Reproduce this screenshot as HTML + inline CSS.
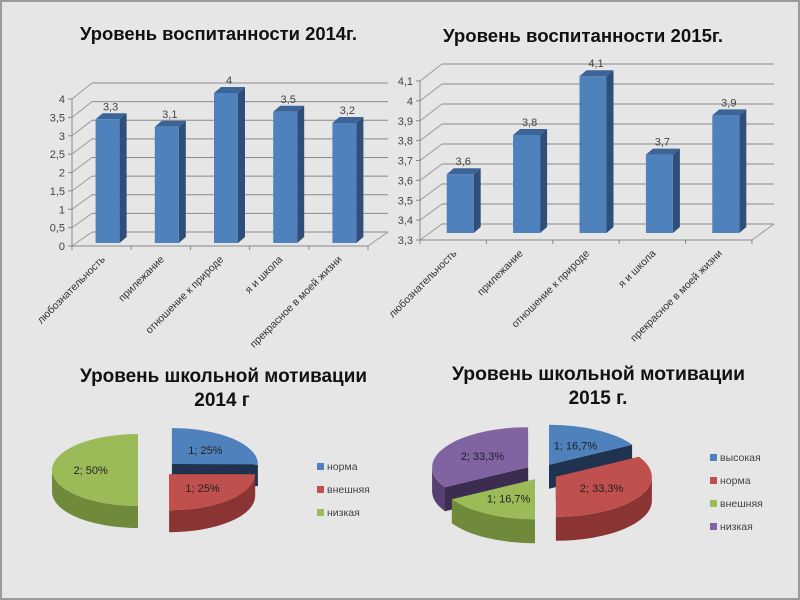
<!DOCTYPE html>
<html><head><meta charset="utf-8"><style>
html,body{margin:0;padding:0;background:#e6e6e6;}
svg{display:block;font-family:"Liberation Sans","DejaVu Sans",sans-serif;}
</style></head><body>
<svg id="s" width="800" height="600" viewBox="0 0 800 600" xmlns="http://www.w3.org/2000/svg">
<rect x="0" y="0" width="800" height="600" fill="#e6e6e6"/>
<rect x="1" y="1" width="798" height="598" fill="none" stroke="#9a9a9a" stroke-width="2"/>
<g font-weight="bold" font-size="18" fill="#111">
<text x="80" y="40" textLength="277" lengthAdjust="spacingAndGlyphs">Уровень воспитанности 2014г.</text>
<text x="443" y="42" textLength="280" lengthAdjust="spacingAndGlyphs">Уровень воспитанности 2015г.</text>
<text x="80" y="382" font-size="19" textLength="287" lengthAdjust="spacingAndGlyphs">Уровень школьной мотивации</text>
<text x="222" y="406" font-size="19" text-anchor="middle">2014 г</text>
<text x="452" y="380" font-size="19" textLength="293" lengthAdjust="spacingAndGlyphs">Уровень школьной мотивации</text>
<text x="598" y="404" font-size="19" text-anchor="middle">2015 г.</text>
</g>
<g id="g"></g>
</svg>
<script>
var g=document.getElementById('g'),h='';
function bars(o){
  var n=o.ticks.length;
  for(var i=0;i<n;i++){
    var t=(o.vals[i]-o.min)/(o.max-o.min);
    var fy=o.fy0+(o.fy1-o.fy0)*t, by=o.by0+(o.by1-o.by0)*t;
    h+='<line x1="'+o.bx0+'" y1="'+by+'" x2="'+o.bx1+'" y2="'+by+'" stroke="#8a8a8a" stroke-width="1"/>';
    h+='<line x1="'+o.ax+'" y1="'+fy+'" x2="'+o.bx0+'" y2="'+by+'" stroke="#9a9a9a"/>';
    h+='<line x1="'+(o.ax-4)+'" y1="'+fy+'" x2="'+o.ax+'" y2="'+fy+'" stroke="#888"/>';
    h+='<text x="'+(o.ax-7)+'" y="'+(fy+4)+'" font-size="11" fill="#444" text-anchor="end">'+o.ticks[i]+'</text>';
  }
  h+='<line x1="'+o.ax+'" y1="'+o.fy1+'" x2="'+o.ax+'" y2="'+o.fy0+'" stroke="#888"/>';
  h+='<line x1="'+o.ax+'" y1="'+o.fy0+'" x2="'+o.fx1+'" y2="'+o.fy0+'" stroke="#888"/>';
  h+='<line x1="'+o.fx1+'" y1="'+o.fy0+'" x2="'+o.bx1+'" y2="'+o.by0+'" stroke="#9a9a9a"/>';
  var cw=(o.fx1-o.ax)/5;
  for(var i=0;i<=5;i++){var x=o.ax+cw*i;h+='<line x1="'+x+'" y1="'+o.fy0+'" x2="'+x+'" y2="'+(o.fy0+4)+'" stroke="#888"/>';}
  for(var i=0;i<5;i++){
    var cx=o.ax+cw*(i+0.5)+o.shift, v=o.data[i], top=o.bb-(v-o.min)*o.sc, w=o.bw, x=cx-w/2;
    h+='<polygon points="'+(x+w)+','+top+' '+(x+w+7)+','+(top-6)+' '+(x+w+7)+','+(o.bb-6)+' '+(x+w)+','+o.bb+'" fill="#2f4f7a"/>';
    h+='<polygon points="'+x+','+top+' '+(x+7)+','+(top-6)+' '+(x+w+7)+','+(top-6)+' '+(x+w)+','+top+'" fill="#3d6496"/>';
    h+='<rect x="'+x+'" y="'+top+'" width="'+w+'" height="'+(o.bb-top)+'" fill="#4f81bd"/>';
    h+='<text x="'+(cx+3)+'" y="'+(top-9)+'" font-size="11" fill="#444" text-anchor="middle">'+String(v).replace('.',',')+'</text>';
    var lx=o.ax+cw*(i+0.5)+4, ly=o.fy0+14;
    h+='<text transform="translate('+lx+','+ly+') rotate(-45)" font-size="10.5" fill="#333" text-anchor="end">'+o.cats[i]+'</text>';
  }
}
var cats=['любознательность','прилежание','отношение к природе','я и школа','прекрасное в моей жизни'];
bars({ticks:['0','0,5','1','1,5','2','2,5','3','3,5','4'],vals:[0,.5,1,1.5,2,2.5,3,3.5,4],min:0,max:4,
 ax:72,fy0:246,fy1:99,bx0:92,bx1:388,by0:232,by1:83,fx1:368,data:[3.3,3.1,4,3.5,3.2],bb:243,sc:37.5,bw:24,shift:6,cats:cats});
bars({ticks:['3,3','3,4','3,5','3,6','3,7','3,8','3,9','4','4,1'],vals:[3.3,3.4,3.5,3.6,3.7,3.8,3.9,4,4.1],min:3.3,max:4.1,
 ax:420,fy0:240,fy1:81,bx0:442,bx1:774,by0:224,by1:64,fx1:752,data:[3.6,3.8,4.1,3.7,3.9],bb:233,sc:196,bw:27,shift:7,cats:cats});

function P(c,a){var r=a*Math.PI/180;return [c.cx+c.rx*Math.sin(r),c.cy-c.ry*Math.cos(r)];}
function slice(c,s,e,col,side,cut,lab,ex){
  var m=(s+e)/2*Math.PI/180, dx=ex*Math.sin(m), dy=-ex*Math.cos(m)*0.6;
  var cc={cx:c.cx+dx,cy:c.cy+dy,rx:c.rx,ry:c.ry},d=c.d,o='';
  function pt(a,y){var p=P(cc,a);return p[0].toFixed(1)+','+(p[1]+(y||0)).toFixed(1);}
  [s,e].forEach(function(a){o+='<polygon points="'+cc.cx+','+cc.cy+' '+pt(a)+' '+pt(a,d)+' '+cc.cx+','+(cc.cy+d)+'" fill="'+cut+'"/>';});
  var a1=Math.max(s,90),a2=Math.min(e,270);
  if(a2>a1){var L=(a2-a1)>180?1:0;
    o+='<path d="M'+pt(a1)+' A'+c.rx+' '+c.ry+' 0 '+L+' 1 '+pt(a2)+' L'+pt(a2,d)+' A'+c.rx+' '+c.ry+' 0 '+L+' 0 '+pt(a1,d)+' Z" fill="'+side+'"/>';}
  var L2=(e-s)>180?1:0;
  o+='<path d="M'+cc.cx+','+cc.cy+' L'+pt(s)+' A'+c.rx+' '+c.ry+' 0 '+L2+' 1 '+pt(e)+' Z" fill="'+col+'"/>';
  var lp=P({cx:cc.cx,cy:cc.cy,rx:c.rx*0.55,ry:c.ry*0.55},(s+e)/2);
  o+='<text x="'+lp[0]+'" y="'+(lp[1]+4)+'" font-size="11" fill="#222" text-anchor="middle">'+lab+'</text>';
  return o;
}
var B=['#4f81bd','#35587f','#1f3350'],R=['#c0504d','#8a3533','#6a2624'],G=['#9bbb59','#6f8a3a','#5a7030'],V=['#8064a2','#55406f','#3b2c50'];
var c1={cx:162,cy:470,rx:86,ry:36,d:22};
h+=slice(c1,180,360,G[0],G[1],G[2],'2; 50%',24);
h+=slice(c1,0,90,B[0],B[1],B[2],'1; 25%',14);
h+=slice(c1,90,180,R[0],R[1],R[2],'1; 25%',10);
var c2={cx:542,cy:472,rx:96,ry:40,d:24};
h+=slice(c2,240,360,V[0],V[1],V[2],'2; 33,3%',16);
h+=slice(c2,0,60,B[0],B[1],B[2],'1; 16,7%',14);
h+=slice(c2,180,240,G[0],G[1],G[2],'1; 16,7%',14);
h+=slice(c2,60,180,R[0],R[1],R[2],'2; 33,3%',16);
function leg(x,y0,step,items){items.forEach(function(it,i){var y=y0+i*step;
 h+='<rect x="'+x+'" y="'+(y-7)+'" width="7" height="7" fill="'+it[1]+'"/><text x="'+(x+10)+'" y="'+y+'" font-size="10.5" fill="#444">'+it[0]+'</text>';});}
leg(317,470,23,[['норма',B[0]],['внешняя',R[0]],['низкая',G[0]]]);
leg(710,461,23,[['высокая',B[0]],['норма',R[0]],['внешняя',G[0]],['низкая',V[0]]]);
g.innerHTML=h;
</script>
</body></html>
